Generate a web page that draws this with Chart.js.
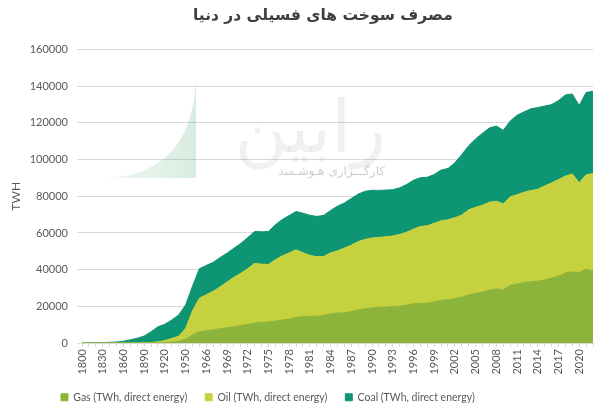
<!DOCTYPE html>
<html><head><meta charset="utf-8">
<script src="https://cdn.jsdelivr.net/npm/chart.js@4"></script>
<style>html,body{margin:0;padding:0;background:#fff;}#wrap{width:600px;height:408px;}</style>
</head><body><div id="wrap"><canvas id="c" width="600" height="408"></canvas></div>
<script>
const categories = ['1800','1810','1820','1830','1840','1850','1860','1870','1880','1890','1900','1910','1920','1930','1940','1950','1960','1965',
'1966','1967','1968','1969','1970','1971','1972','1973','1974','1975','1976','1977','1978','1979','1980','1981','1982','1983','1984','1985',
'1986','1987','1988','1989','1990','1991','1992','1993','1994','1995','1996','1997','1998','1999','2000','2001','2002','2003','2004','2005',
'2006','2007','2008','2009','2010','2011','2012','2013','2014','2015','2016','2017','2018','2019','2020','2021','2022'];

const gasValues = [0,0,0,0,0,0,0,0,0,0,60,150,230,550,900,2100,4500,6200,
6700,7200,7800,8400,8900,9500,10200,10900,11300,11500,11900,12500,13100,14000,14300,14500,14600,15000,15900,16300,
16500,17200,18000,18700,19100,19500,19600,19900,20100,20600,21500,21500,21800,22400,23300,23600,24300,25000,26200,27000,
27700,28800,29500,28900,31500,32200,33000,33400,33700,34500,35400,36400,38200,38800,38400,40200,39300];

const oilValues = [0,0,0,0,0,0,0,10,40,90,180,500,1100,1900,2800,5800,13000,18200,
19600,21000,22800,24800,26900,28500,30300,32500,31700,31300,33500,35000,36000,36800,34900,33300,32400,32200,33300,33900,
35300,36100,37300,37800,38200,38000,38400,38400,39100,39800,40600,42000,42100,42900,43300,43600,44000,44800,46400,47000,
47400,48000,47800,47000,48200,48600,49200,49700,50100,51100,51900,52700,52800,53400,49000,51500,53100];

const coalValues = [100,130,150,260,360,570,1000,1700,2560,3700,5900,8200,8900,10100,11600,12800,13500,16100,
16000,15800,16000,15800,15900,16300,17000,17400,17600,18000,19100,19800,20400,20900,21600,21900,22000,22400,23100,24400,
24600,25500,25900,26200,26000,25700,25400,25300,25400,26000,26700,26600,26500,26600,27700,28000,30000,33000,35000,37300,
39300,40500,41000,40100,41300,43400,43800,44600,44600,43600,42700,43100,44300,43600,42100,44900,44900];

const yTickValues = [0,20000,40000,60000,80000,100000,120000,140000,160000];
const seriesNames = ['Gas (TWh, direct energy)','Oil (TWh, direct energy)','Coal (TWh, direct energy)'];
const seriesColors = ['#8cb43a','#c5d13e','#0e9573'];
const titleText = 'مصرف سوخت های فسیلی در دنیا';
const yAxisTitle = 'TWH';
const watermarkMain = 'رابین';
const watermarkSub = 'کارگـــزاری هـوشـمند';

const watermark = {
  id: 'watermark',
  beforeDatasetsDraw(chart) {
    const ctx = chart.ctx;
    ctx.save();
    const g = ctx.createLinearGradient(105, 0, 196, 0);
    g.addColorStop(0, 'rgba(120,190,150,0.12)');
    g.addColorStop(1, 'rgba(80,170,120,0.22)');
    ctx.fillStyle = g;
    ctx.beginPath();
    ctx.moveTo(105, 178);
    ctx.quadraticCurveTo(190, 175, 196, 82);
    ctx.lineTo(196, 178);
    ctx.closePath();
    ctx.fill();
    ctx.fillStyle = 'rgba(0,0,0,0.06)';
    ctx.textAlign = 'right';
    ctx.textBaseline = 'alphabetic';
    ctx.font = '72px "DejaVu Sans"';
    ctx.fillText(watermarkMain, 386, 152);
    ctx.fillStyle = 'rgba(0,0,0,0.2)';
    ctx.font = '12px "DejaVu Sans"';
    ctx.textBaseline = 'middle';
    ctx.fillText(watermarkSub, 385, 172);
    ctx.restore();
  }
};

const legendPad = 18;
const placeBlocks = {
  id: 'placeBlocks',
  beforeLayout(chart) {
    const lg = chart.legend;
    if (lg && !lg._fixedFit) {
      const f = lg.fit;
      lg.fit = function() { f.apply(this, arguments); this.height = 33; };
      lg._fixedFit = true;
    }
  },
  afterLayout(chart) {
    if (chart.titleBlock) { chart.titleBlock.left = 193; chart.titleBlock.right = 600; }
    if (chart.legend) {
      const lg = chart.legend;
      lg.left = 61 - legendPad; lg.right = 600;
      lg.top = 374; lg.bottom = 408;
    }
  }
};

const tickColor = '#595959';
const baseFont = 'Lato';

new Chart(document.getElementById('c'), {
  type: 'line',
  data: {
    labels: categories,
    datasets: [
      { label: seriesNames[0], data: gasValues, backgroundColor: seriesColors[0], borderColor: seriesColors[0], fill: 'origin' },
      { label: seriesNames[1], data: oilValues, backgroundColor: seriesColors[1], borderColor: seriesColors[1], fill: '-1' },
      { label: seriesNames[2], data: coalValues, backgroundColor: seriesColors[2], borderColor: seriesColors[2], fill: '-1' }
    ]
  },
  options: {
    responsive: false,
    animation: false,
    devicePixelRatio: 1,
    layout: { padding: { right: 7 } },
    elements: { point: { radius: 0 }, line: { borderWidth: 1, tension: 0 } },
    plugins: {
      title: { display: true, align: 'start', text: titleText, color: '#404040', font: { family: 'DejaVu Sans', size: 15.5, weight: 'bold' }, padding: { top: 7, bottom: 24 } },
      legend: {
        position: 'bottom', align: 'start',
        labels: { boxWidth: 7, boxHeight: 7, padding: legendPad, color: tickColor, font: { family: baseFont, size: 10.5 } }
      },
      tooltip: { enabled: false }
    },
    scales: {
      x: {
        stacked: true,
        grid: { drawOnChartArea: false, drawTicks: true, tickLength: 4, color: '#d9d9d9' },
        border: { display: true, color: '#d9d9d9' },
        ticks: {
          autoSkip: false, maxRotation: 90, minRotation: 90, padding: 2,
          color: tickColor, font: { family: baseFont, size: 11 },
          callback: function(v, i) { return i % 3 === 0 ? this.getLabelForValue(v) : ''; }
        },
        afterFit(s) { s.height = 32; s.paddingRight = 0; s.paddingLeft = 0; }
      },
      y: {
        stacked: true,
        min: 0, max: 160000,
        afterBuildTicks(s) { s.ticks = yTickValues.map(v => ({ value: v })); },
        grid: { color: '#d9d9d9', tickLength: 5 },
        border: { display: false },
        ticks: { color: tickColor, padding: 9, font: { family: baseFont, size: 11 }, callback: v => String(v) },
        title: { display: true, text: yAxisTitle, color: tickColor, font: { family: baseFont, size: 12 }, padding: { top: 9, bottom: 0 } },
        afterFit(s) { s.width = 82; }
      }
    }
  },
  plugins: [watermark, placeBlocks]
});
</script>
</body></html>
